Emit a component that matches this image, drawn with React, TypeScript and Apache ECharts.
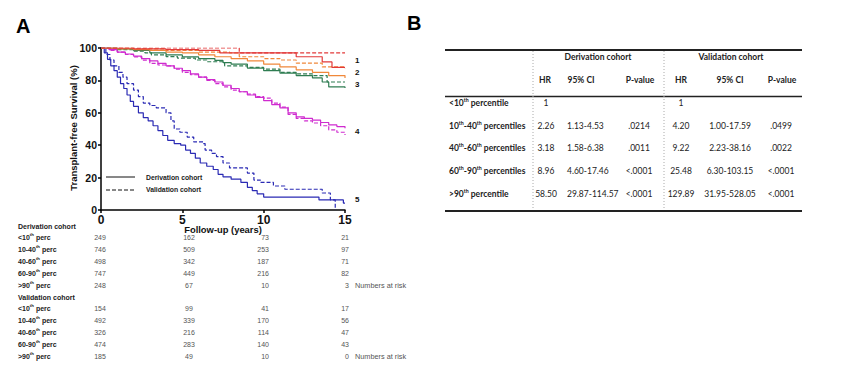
import React, { useEffect, useRef } from "react";
import * as echarts from "echarts";

// ---------- Kaplan-Meier data: [years, survival %] (step drops) ----------
const der1: [number, number][] = [[0, 100], [2, 99.5], [4, 99], [6, 98.5], [7.3, 97], [12, 94.6], [13.6, 91.4], [14.2, 88], [15, 88]];
const val1: [number, number][] = [[0, 100], [8.5, 97], [15, 97]];
const der2: [number, number][] = [[0, 100], [1, 99.5], [2, 99], [3, 98.5], [4, 97.5], [5, 97], [6, 95.8], [7, 94.6], [8, 93.5], [9, 92], [10, 90], [11, 88.3], [12, 86.5], [13, 85], [14, 83], [15, 81.5]];
const val2: [number, number][] = [[0, 100], [2, 99.5], [4, 98.5], [6, 97.5], [7.9, 97], [8.5, 94.6], [10, 93.5], [11, 92.6], [12, 90.7], [13.6, 88.3], [15, 87.5]];
const der3: [number, number][] = [[0, 100], [1, 99.5], [2, 98.5], [3, 97], [4, 95.7], [5, 94.5], [6, 93.5], [7, 92.3], [7.5, 91], [8, 90], [9, 87.6], [10, 86], [11, 84.5], [12, 83], [13, 81.5], [13.6, 79], [14, 76], [15, 75.3]];
const val3: [number, number][] = [[0, 100], [1, 99], [2, 98], [2.7, 97], [3.1, 95.7], [4, 94.7], [4.7, 93.8], [5.8, 92.6], [6.5, 91.5], [7.6, 89], [9, 88], [10, 87], [11, 85], [12, 84], [13, 83], [13.9, 79], [15, 79]];
const der4: [number, number][] = [[0, 100], [0.5, 99], [1, 97.5], [1.5, 96.3], [2, 95], [2.5, 93.5], [3, 92], [3.5, 90.5], [4, 89], [4.5, 87.5], [5, 86], [5.5, 84], [6, 82], [6.5, 80.5], [7, 79], [7.5, 77], [8, 75], [8.5, 73], [9, 71], [9.5, 69.5], [10, 67.5], [10.5, 65], [11, 63], [11.5, 60], [12, 57.5], [12.5, 56.5], [13, 55.5], [13.5, 54], [14, 52.5], [14.5, 51.5], [15, 50.5]];
const val4: [number, number][] = [[0, 100], [0.5, 98.5], [1, 97.5], [1.5, 96], [2, 94.5], [2.5, 92.5], [3, 90.5], [3.5, 89.5], [4, 89], [4.5, 87], [5, 85], [5.5, 83.5], [6, 82], [6.5, 80], [7, 78], [7.5, 76], [8, 74], [8.5, 73], [9, 71.5], [9.5, 70], [10, 69], [10.5, 66], [11, 63.5], [11.5, 59], [12, 56.5], [12.5, 55], [13, 53.7], [13.5, 52], [14, 49.5], [14.5, 48], [15, 46.3]];
const der5: [number, number][] = [[0, 100], [0.2, 97], [0.4, 93], [0.6, 89], [0.8, 86], [1, 82], [1.2, 78], [1.4, 75], [1.6, 71], [1.8, 67], [2, 64], [2.3, 60], [2.6, 57], [2.9, 55], [3.2, 52], [3.5, 49], [3.8, 46], [4.1, 43], [4.5, 41], [4.9, 40], [5.2, 37], [5.5, 35], [5.8, 32], [6.1, 29], [6.5, 27], [6.9, 25], [7.2, 22], [7.5, 20.5], [8, 19], [8.6, 17], [9, 14], [9.3, 12], [9.6, 10], [10, 8], [13.4, 6.2], [14.9, 4.3], [15, 4.3]];
const val5: [number, number][] = [[0, 100], [0.3, 96], [0.55, 92.6], [0.8, 89], [1.1, 85], [1.35, 82], [1.6, 78], [2, 74], [2.3, 70], [2.6, 66], [3, 64.5], [3.4, 63], [4, 60], [4.3, 55], [4.5, 50], [4.85, 48], [5.3, 45], [5.7, 42], [6.3, 41], [6.4, 37], [6.8, 35], [7.1, 33], [7.5, 29], [7.9, 26], [9, 22.8], [9.4, 18.5], [9.8, 17], [10.6, 14.8], [11.3, 12.8], [13.6, 10.5], [14.1, 6.2], [14.4, 0]];

const curveColors = ["#e23a3a", "#f0883a", "#2f7d52", "#cf2bcf", "#2a2ab4"];
const curveLabels = ["1", "2", "3", "4", "5"];

// ---------- numbers at risk ----------
const riskGroups = ["<10", "10-40", "40-60", "60-90", ">90"];
const derRisk = [[249, 162, 73, 21], [746, 509, 253, 97], [498, 342, 187, 71], [747, 449, 216, 82], [248, 67, 10, 3]];
const valRisk = [[154, 99, 41, 17], [492, 339, 170, 56], [326, 216, 114, 47], [474, 283, 140, 43], [185, 49, 10, 0]];

// ---------- table B ----------
const tblRowLabels: string[][] = [["<10", "th", " percentile"], ["10", "th", "-40", "th", " percentiles"], ["40", "th", "-60", "th", " percentiles"], ["60", "th", "-90", "th", " percentiles"], [">90", "th", " percentile"]];
const derHR = ["1", "2.26", "3.18", "8.96", "58.50"];
const derCI = ["", "1.13-4.53", "1.58-6.38", "4.60-17.46", "29.87-114.57"];
const derP = ["", ".0214", ".0011", "<.0001", "<.0001"];
const valHR = ["1", "4.20", "9.22", "25.48", "129.89"];
const valCI = ["", "1.00-17.59", "2.23-38.16", "6.30-103.15", "31.95-528.05"];
const valP = ["", ".0499", ".0022", "<.0001", "<.0001"];
const subHeaders = ["HR", "95% CI", "P-value", "HR", "95% CI", "P-value"];

const FONT = "'Liberation Sans', Arial, sans-serif";
const TFONT = "Lato, 'Liberation Sans', sans-serif";
const TFS = 8.5;

function txt(x: number, y: number, text: string, o: any = {}) {
  return {
    type: "text",
    x,
    y,
    silent: true,
    rotation: o.rotation || 0,
    style: {
      text,
      fontSize: o.fontSize || 7,
      fontWeight: o.fontWeight || "normal",
      fontFamily: o.fontFamily || FONT,
      fill: o.fill || "#222",
      align: o.align || "left",
      verticalAlign: "middle",
      rich: o.rich,
    },
  };
}

function supRich(fs: number, fam: string, fill: string, bold: boolean) {
  return {
    n: { fontSize: fs, fontFamily: fam, fontWeight: bold ? "bold" : "normal", fill, lineHeight: fs + 3 },
    s: { fontSize: fs * 0.62, fontFamily: fam, fontWeight: bold ? "bold" : "normal", fill, lineHeight: fs * 0.62, verticalAlign: "top" },
  };
}

function partsToRich(parts: string[]) {
  return parts.map((p, i) => (i % 2 === 1 ? `{s|${p}}` : `{n|${p}}`)).join("");
}

export default function App() {
  const ref = useRef<HTMLDivElement>(null);
  useEffect(() => {
    document.body.style.margin = "0";
    const chart = echarts.init(ref.current!, null, { renderer: "svg" });
    const curves = [der1, val1, der2, val2, der3, val3, der4, val4, der5, val5];
    const series = curves.map((d, i) => ({
      type: "line",
      step: "end",
      data: d,
      symbol: "none",
      silent: true,
      lineStyle: {
        color: curveColors[Math.floor(i / 2)],
        width: 1.2,
        type: i % 2 === 0 ? "solid" : [4, 2],
      },
      z: 10 - Math.floor(i / 2),
    }));

    const g: any[] = [];
    // panel letters
    g.push(txt(16, 26, "A", { fontSize: 20, fontWeight: "bold", fill: "#000" }));
    g.push(txt(407, 23, "B", { fontSize: 20, fontWeight: "bold", fill: "#000" }));
    // axis titles
    g.push(txt(73, 128, "Transplant-free Survival (%)", { fontSize: 9.5, fontWeight: "bold", fill: "#111", align: "center", rotation: Math.PI / 2 }));
    g.push(txt(223, 229, "Follow-up (years)", { fontSize: 9.4, fontWeight: "bold", fill: "#111", align: "center" }));
    // curve numbers
    const labY = [60, 72, 84, 131, 199];
    curveLabels.forEach((l, i) => g.push(txt(355, labY[i], l, { fontSize: 8, fontWeight: "bold", fill: "#111" })));
    // legend
    g.push({ type: "line", silent: true, shape: { x1: 106, y1: 177, x2: 135, y2: 177 }, style: { stroke: "#111", lineWidth: 1 } });
    g.push({ type: "line", silent: true, shape: { x1: 106, y1: 190, x2: 135, y2: 190 }, style: { stroke: "#111", lineWidth: 1, lineDash: [4, 2] } });
    g.push(txt(146, 177, "Derivation cohort", { fontSize: 6.8, fontWeight: "bold", fill: "#222" }));
    g.push(txt(146, 189, "Validation cohort", { fontSize: 6.8, fontWeight: "bold", fill: "#222" }));

    // numbers at risk
    const colX = [100, 189, 269, 349];
    const colAlign = ["center", "center", "right", "right"];
    const blocks = [
      { title: "Derivation cohort", data: derRisk, y0: 226 },
      { title: "Validation cohort", data: valRisk, y0: 297 },
    ];
    blocks.forEach((b) => {
      g.push(txt(18, b.y0, b.title, { fontSize: 7, fontWeight: "bold", fill: "#222" }));
      b.data.forEach((row, r) => {
        const y = b.y0 + 11.8 * (r + 1);
        g.push(txt(18, y, `{n|${riskGroups[r]}}{s|th}{n| perc}`, { rich: supRich(7, FONT, "#222", true) }));
        row.forEach((v, c) => g.push(txt(colX[c], y, String(v), { fontSize: 7, fill: "#555", align: colAlign[c] })));
        if (r === b.data.length - 1) g.push(txt(355, y, "Numbers at risk", { fontSize: 7.3, fill: "#555" }));
      });
    });

    // table B
    const L = 445, R = 802;
    g.push({ type: "line", silent: true, shape: { x1: L, y1: 50, x2: R, y2: 50 }, style: { stroke: "#222", lineWidth: 2 } });
    g.push({ type: "line", silent: true, shape: { x1: L, y1: 96.5, x2: R, y2: 96.5 }, style: { stroke: "#222", lineWidth: 1.5 } });
    g.push({ type: "line", silent: true, shape: { x1: L, y1: 211, x2: R, y2: 211 }, style: { stroke: "#222", lineWidth: 2 } });
    [533, 664].forEach((x) =>
      g.push({ type: "line", silent: true, shape: { x1: x, y1: 51, x2: x, y2: 210 }, style: { stroke: "#aaa", lineWidth: 1, lineDash: [1, 2] } })
    );
    g.push(txt(598, 57, "Derivation cohort", { fontSize: TFS, fontWeight: "bold", fontFamily: TFONT, fill: "#222", align: "center" }));
    g.push(txt(731, 57, "Validation cohort", { fontSize: TFS, fontWeight: "bold", fontFamily: TFONT, fill: "#222", align: "center" }));
    const hdrX = [545, 581, 640, 681, 730, 782];
    subHeaders.forEach((h, i) => g.push(txt(hdrX[i], 80, h, { fontSize: TFS, fontWeight: "bold", fontFamily: TFONT, fill: "#222", align: "center" })));
    const rowY = [103, 126, 148, 171, 194];
    const cols = [derHR, derCI, derP, valHR, valCI, valP];
    const valX = [546, 567, 639, 681, 730, 781];
    const valAlign = ["center", "left", "center", "center", "center", "center"];
    rowY.forEach((y, r) => {
      g.push(txt(449, y, partsToRich(tblRowLabels[r]), { rich: supRich(TFS, TFONT, "#222", true) }));
      cols.forEach((col, c) => {
        if (col[r]) g.push(txt(valX[c], y, col[r], { fontSize: TFS, fontFamily: TFONT, fill: "#222", align: valAlign[c] }));
      });
    });

    const axisCommon = {
      axisLine: { show: true, lineStyle: { color: "#000", width: 1.5 } },
      axisTick: { show: true, length: 3, lineStyle: { color: "#000", width: 1.5 } },
      splitLine: { show: false },
    };

    chart.setOption({
      animation: false,
      grid: { left: 101, top: 48, width: 244, height: 162, containLabel: false },
      xAxis: {
        type: "value",
        min: 0,
        max: 15,
        interval: 5,
        ...axisCommon,
        axisLabel: { fontSize: 12, fontWeight: "bold", color: "#111", fontFamily: FONT, margin: 4 },
      },
      yAxis: {
        type: "value",
        min: 0,
        max: 100,
        interval: 20,
        ...axisCommon,
        axisLabel: { fontSize: 10.5, fontWeight: "bold", color: "#111", fontFamily: FONT, margin: 4 },
      },
      series,
      graphic: g,
    });
    return () => chart.dispose();
  }, []);
  return <div ref={ref} style={{ width: 850, height: 379 }} />;
}
